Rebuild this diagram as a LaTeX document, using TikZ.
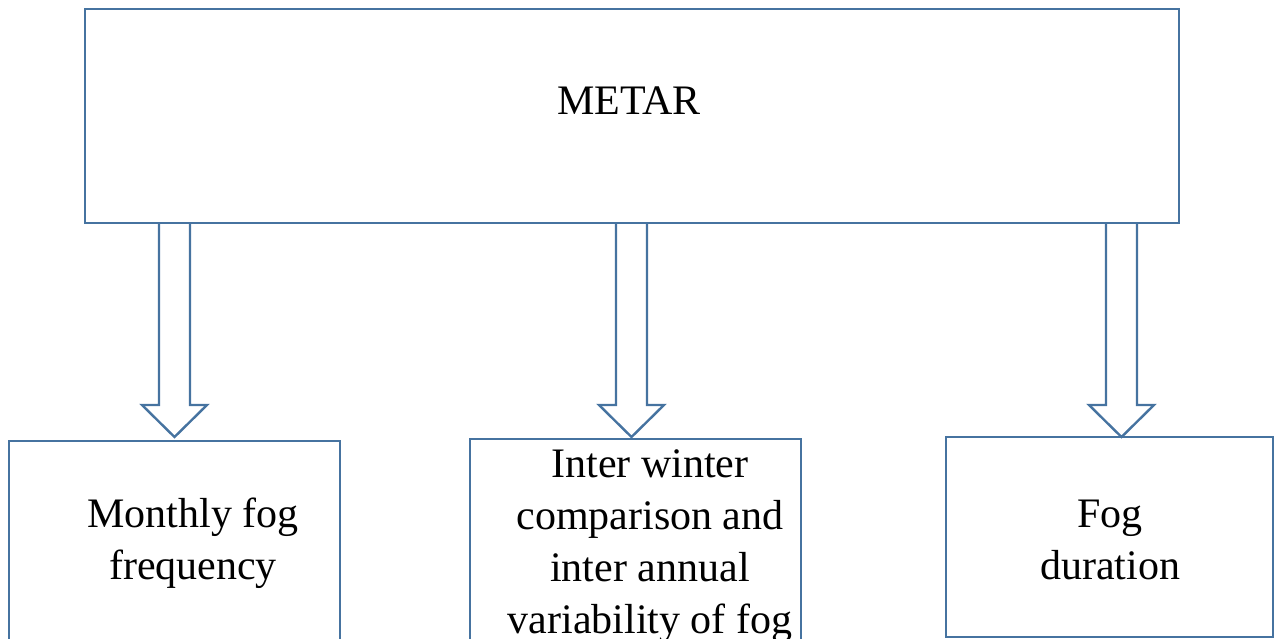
\documentclass[tikz,border=0pt]{standalone}
\usepackage{fontspec}
\setmainfont{Liberation Serif}
\usetikzlibrary{calc}
\definecolor{boxblue}{RGB}{70,115,160}
\tikzset{
  box/.style={draw=boxblue, line width=2.4pt, fill=white, inner sep=0pt, outer sep=0pt},
  label/.style={inner sep=0pt, anchor=base, font=\fontsize{42}{52}\selectfont},
  blockarrow/.style={draw=boxblue, line width=2.4pt, line join=miter}
}
\newcommand{\fatarrow}[2]{%
  \draw[blockarrow] ($(#1)+(-15.5,0)$) -- ($(#2)+(-15.5,-32)$) -- ($(#2)+(-32.5,-32)$) -- (#2)
    -- ($(#2)+(32.5,-32)$) -- ($(#2)+(15.5,-32)$) -- ($(#1)+(15.5,0)$);}
\begin{document}
\begin{tikzpicture}[x=1pt,y=-1pt]
\useasboundingbox (0,0) rectangle (1274,639);
\begin{scope}
\clip (0,0) rectangle (1274,639);
\node[box, minimum width=1094pt, minimum height=214pt] (metar) at (632,116) {};
\node[box, minimum width=331pt, minimum height=260pt, anchor=north west] (monthly) at (9,441) {};
\node[box, minimum width=331pt, minimum height=260pt, anchor=north west] (inter) at (470,439) {};
\node[box, minimum width=327pt, minimum height=200pt, anchor=north west] (dur) at (946,437) {};

\node[label] (tmetar) at (629,115) {METAR};
\node[label] (tmonthly) at (193,527) {\begin{tabular}[t]{@{}c@{}}Monthly fog\\frequency\end{tabular}};
\node[label] (tinter) at (650,477) {\begin{tabular}[t]{@{}c@{}}Inter winter\\comparison and\\inter annual\\variability of fog\end{tabular}};
\node[label] (tdur) at (1110,527) {\begin{tabular}[t]{@{}c@{}}Fog\\duration\end{tabular}};

\coordinate (s1) at (metar.south -| 174.5,0);
\coordinate (e1) at (174.5,437);
\coordinate (s2) at (metar.south -| 631.5,0);
\coordinate (e2) at (631.5,437);
\coordinate (s3) at (metar.south -| 1121.5,0);
\coordinate (e3) at (1121.5,437);
\fatarrow{s1}{e1}
\fatarrow{s2}{e2}
\fatarrow{s3}{e3}
\end{scope}
\end{tikzpicture}
\end{document}
